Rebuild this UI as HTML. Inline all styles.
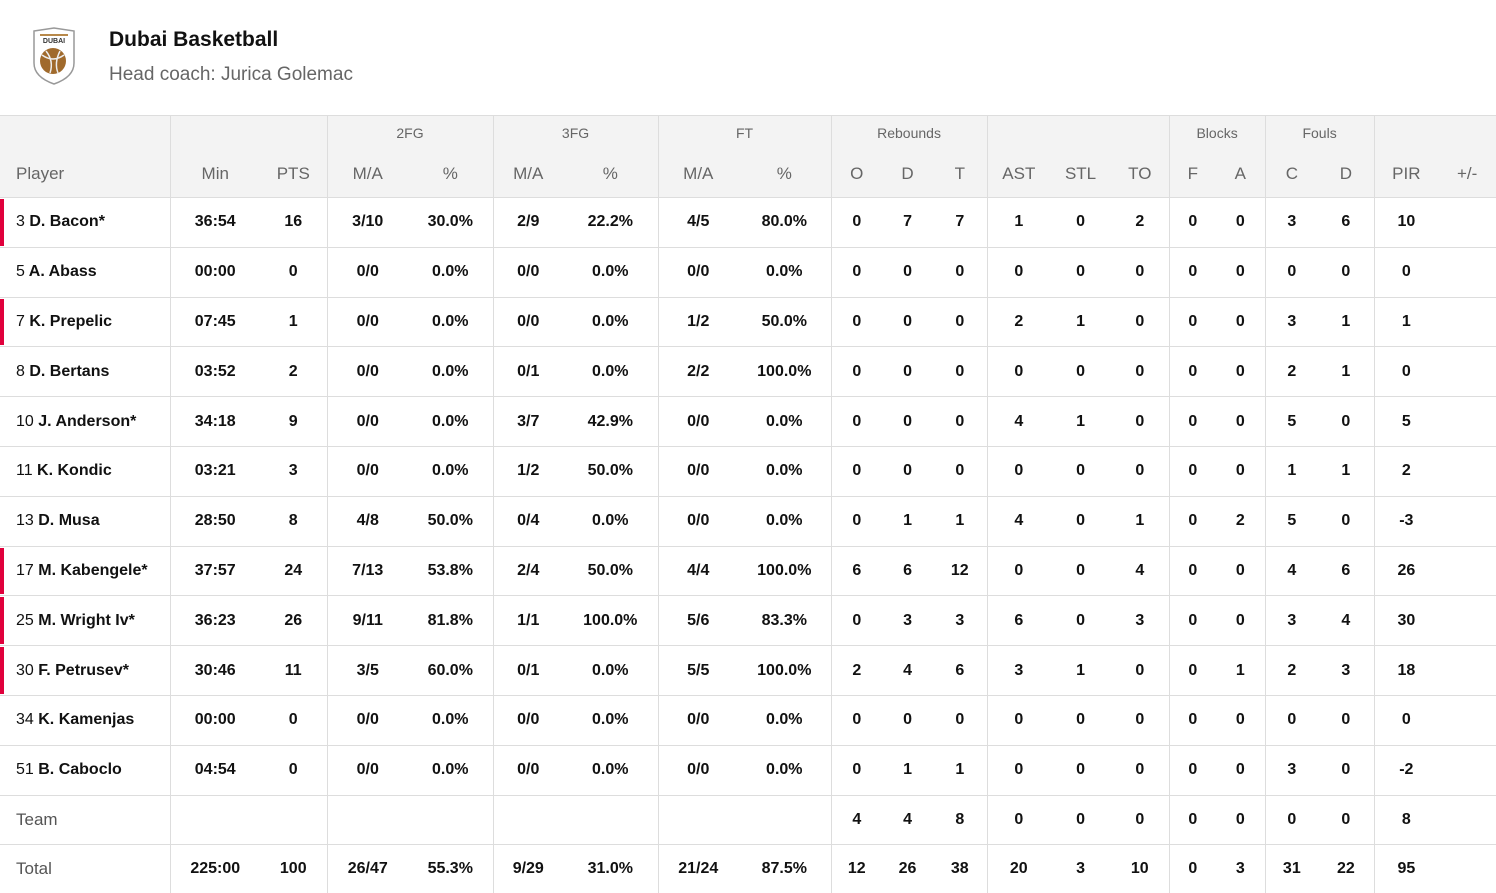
<!DOCTYPE html>
<html><head><meta charset="utf-8"><style>
body{margin:0;width:1496px;height:889px;overflow:hidden;background:#fff;font-family:"Liberation Sans",sans-serif;color:#111;position:relative}
.logo{position:absolute;left:32px;top:27px}
.t1{position:absolute;left:109px;top:28px;font-size:21px;font-weight:bold;color:#111}
.t2{position:absolute;left:109px;top:64px;font-size:19px;color:#666}
table{position:absolute;left:0;top:115px;border-collapse:collapse;table-layout:fixed;width:1496px}
td,th{padding:0;text-align:center;white-space:nowrap}
tr.g th{height:34px;background:#f3f3f3;font-weight:normal;font-size:14px;color:#666;border-top:1px solid #ddd;vertical-align:middle}
tr.h th{height:47px;background:#f3f3f3;font-weight:normal;font-size:17px;color:#666;border-bottom:1px solid #ddd}
tr.d td{height:48.8px;border-bottom:1px solid #ddd;font-size:16px;font-weight:bold}
td.p,th.p{text-align:left;padding-left:16px;position:relative}
td.p span{font-weight:normal}
td.r::before{content:"";position:absolute;left:0;top:1px;bottom:1px;width:4px;background:#e0003c}
.b{border-left:1px solid #ddd}
tr.team td{font-weight:bold}
tr.team td.p,tr.tot td.p{font-weight:normal;color:#555;font-size:17px}
tr.tot td{height:48px;border-bottom:none}
</style></head><body>
<svg class="logo" width="44" height="58" viewBox="0 0 44 58">
<path d="M2 4 L22 1 L42 4 L42 36 Q42 50 22 57 Q2 50 2 36 Z" fill="#fff" stroke="#999" stroke-width="1.5"/>
<rect x="8" y="7" width="28" height="2" fill="#b8894a"/>
<text x="22" y="16" font-size="7" font-weight="bold" text-anchor="middle" fill="#333" font-family="Liberation Sans">DUBAI</text>
<circle cx="21" cy="34" r="13" fill="#a06a2c"/>
<path d="M10 28 Q21 36 32 28 M14 24 Q22 34 18 46 M28 24 Q22 36 26 46" stroke="#eee" stroke-width="1.5" fill="none"/>
</svg>
<div class="t1">Dubai Basketball</div>
<div class="t2">Head coach: Jurica Golemac</div>
<table>
<colgroup><col style="width:170px"><col style="width:90px"><col style="width:67px"><col style="width:81px"><col style="width:85px"><col style="width:70px"><col style="width:95px"><col style="width:80px"><col style="width:93px"><col style="width:51px"><col style="width:51px"><col style="width:54px"><col style="width:63px"><col style="width:61px"><col style="width:58px"><col style="width:47px"><col style="width:49px"><col style="width:53px"><col style="width:56px"><col style="width:64px"><col style="width:58px"></colgroup>
<tr class="g"><th></th><th class="b" colspan="2"></th><th class="b" colspan="2">2FG</th><th class="b" colspan="2">3FG</th><th class="b" colspan="2">FT</th><th class="b" colspan="3">Rebounds</th><th class="b" colspan="3"></th><th class="b" colspan="2">Blocks</th><th class="b" colspan="2">Fouls</th><th class="b" colspan="2"></th></tr>
<tr class="h"><th class="p">Player</th><th class="b">Min</th><th>PTS</th><th class="b">M/A</th><th>%</th><th class="b">M/A</th><th>%</th><th class="b">M/A</th><th>%</th><th class="b">O</th><th>D</th><th>T</th><th class="b">AST</th><th>STL</th><th>TO</th><th class="b">F</th><th>A</th><th class="b">C</th><th>D</th><th class="b">PIR</th><th>+/-</th></tr>
<tr class="d"><td class="p r"><span>3</span> D. Bacon*</td><td class="b">36:54</td><td>16</td><td class="b">3/10</td><td>30.0%</td><td class="b">2/9</td><td>22.2%</td><td class="b">4/5</td><td>80.0%</td><td class="b">0</td><td>7</td><td>7</td><td class="b">1</td><td>0</td><td>2</td><td class="b">0</td><td>0</td><td class="b">3</td><td>6</td><td class="b">10</td><td></td></tr>
<tr class="d"><td class="p"><span>5</span> A. Abass</td><td class="b">00:00</td><td>0</td><td class="b">0/0</td><td>0.0%</td><td class="b">0/0</td><td>0.0%</td><td class="b">0/0</td><td>0.0%</td><td class="b">0</td><td>0</td><td>0</td><td class="b">0</td><td>0</td><td>0</td><td class="b">0</td><td>0</td><td class="b">0</td><td>0</td><td class="b">0</td><td></td></tr>
<tr class="d"><td class="p r"><span>7</span> K. Prepelic</td><td class="b">07:45</td><td>1</td><td class="b">0/0</td><td>0.0%</td><td class="b">0/0</td><td>0.0%</td><td class="b">1/2</td><td>50.0%</td><td class="b">0</td><td>0</td><td>0</td><td class="b">2</td><td>1</td><td>0</td><td class="b">0</td><td>0</td><td class="b">3</td><td>1</td><td class="b">1</td><td></td></tr>
<tr class="d"><td class="p"><span>8</span> D. Bertans</td><td class="b">03:52</td><td>2</td><td class="b">0/0</td><td>0.0%</td><td class="b">0/1</td><td>0.0%</td><td class="b">2/2</td><td>100.0%</td><td class="b">0</td><td>0</td><td>0</td><td class="b">0</td><td>0</td><td>0</td><td class="b">0</td><td>0</td><td class="b">2</td><td>1</td><td class="b">0</td><td></td></tr>
<tr class="d"><td class="p"><span>10</span> J. Anderson*</td><td class="b">34:18</td><td>9</td><td class="b">0/0</td><td>0.0%</td><td class="b">3/7</td><td>42.9%</td><td class="b">0/0</td><td>0.0%</td><td class="b">0</td><td>0</td><td>0</td><td class="b">4</td><td>1</td><td>0</td><td class="b">0</td><td>0</td><td class="b">5</td><td>0</td><td class="b">5</td><td></td></tr>
<tr class="d"><td class="p"><span>11</span> K. Kondic</td><td class="b">03:21</td><td>3</td><td class="b">0/0</td><td>0.0%</td><td class="b">1/2</td><td>50.0%</td><td class="b">0/0</td><td>0.0%</td><td class="b">0</td><td>0</td><td>0</td><td class="b">0</td><td>0</td><td>0</td><td class="b">0</td><td>0</td><td class="b">1</td><td>1</td><td class="b">2</td><td></td></tr>
<tr class="d"><td class="p"><span>13</span> D. Musa</td><td class="b">28:50</td><td>8</td><td class="b">4/8</td><td>50.0%</td><td class="b">0/4</td><td>0.0%</td><td class="b">0/0</td><td>0.0%</td><td class="b">0</td><td>1</td><td>1</td><td class="b">4</td><td>0</td><td>1</td><td class="b">0</td><td>2</td><td class="b">5</td><td>0</td><td class="b">-3</td><td></td></tr>
<tr class="d"><td class="p r"><span>17</span> M. Kabengele*</td><td class="b">37:57</td><td>24</td><td class="b">7/13</td><td>53.8%</td><td class="b">2/4</td><td>50.0%</td><td class="b">4/4</td><td>100.0%</td><td class="b">6</td><td>6</td><td>12</td><td class="b">0</td><td>0</td><td>4</td><td class="b">0</td><td>0</td><td class="b">4</td><td>6</td><td class="b">26</td><td></td></tr>
<tr class="d"><td class="p r"><span>25</span> M. Wright Iv*</td><td class="b">36:23</td><td>26</td><td class="b">9/11</td><td>81.8%</td><td class="b">1/1</td><td>100.0%</td><td class="b">5/6</td><td>83.3%</td><td class="b">0</td><td>3</td><td>3</td><td class="b">6</td><td>0</td><td>3</td><td class="b">0</td><td>0</td><td class="b">3</td><td>4</td><td class="b">30</td><td></td></tr>
<tr class="d"><td class="p r"><span>30</span> F. Petrusev*</td><td class="b">30:46</td><td>11</td><td class="b">3/5</td><td>60.0%</td><td class="b">0/1</td><td>0.0%</td><td class="b">5/5</td><td>100.0%</td><td class="b">2</td><td>4</td><td>6</td><td class="b">3</td><td>1</td><td>0</td><td class="b">0</td><td>1</td><td class="b">2</td><td>3</td><td class="b">18</td><td></td></tr>
<tr class="d"><td class="p"><span>34</span> K. Kamenjas</td><td class="b">00:00</td><td>0</td><td class="b">0/0</td><td>0.0%</td><td class="b">0/0</td><td>0.0%</td><td class="b">0/0</td><td>0.0%</td><td class="b">0</td><td>0</td><td>0</td><td class="b">0</td><td>0</td><td>0</td><td class="b">0</td><td>0</td><td class="b">0</td><td>0</td><td class="b">0</td><td></td></tr>
<tr class="d"><td class="p"><span>51</span> B. Caboclo</td><td class="b">04:54</td><td>0</td><td class="b">0/0</td><td>0.0%</td><td class="b">0/0</td><td>0.0%</td><td class="b">0/0</td><td>0.0%</td><td class="b">0</td><td>1</td><td>1</td><td class="b">0</td><td>0</td><td>0</td><td class="b">0</td><td>0</td><td class="b">3</td><td>0</td><td class="b">-2</td><td></td></tr>
<tr class="d team"><td class="p">Team</td><td class="b"></td><td></td><td class="b"></td><td></td><td class="b"></td><td></td><td class="b"></td><td></td><td class="b">4</td><td>4</td><td>8</td><td class="b">0</td><td>0</td><td>0</td><td class="b">0</td><td>0</td><td class="b">0</td><td>0</td><td class="b">8</td><td></td></tr>
<tr class="d tot"><td class="p">Total</td><td class="b">225:00</td><td>100</td><td class="b">26/47</td><td>55.3%</td><td class="b">9/29</td><td>31.0%</td><td class="b">21/24</td><td>87.5%</td><td class="b">12</td><td>26</td><td>38</td><td class="b">20</td><td>3</td><td>10</td><td class="b">0</td><td>3</td><td class="b">31</td><td>22</td><td class="b">95</td><td></td></tr>
</table>
</body></html>
